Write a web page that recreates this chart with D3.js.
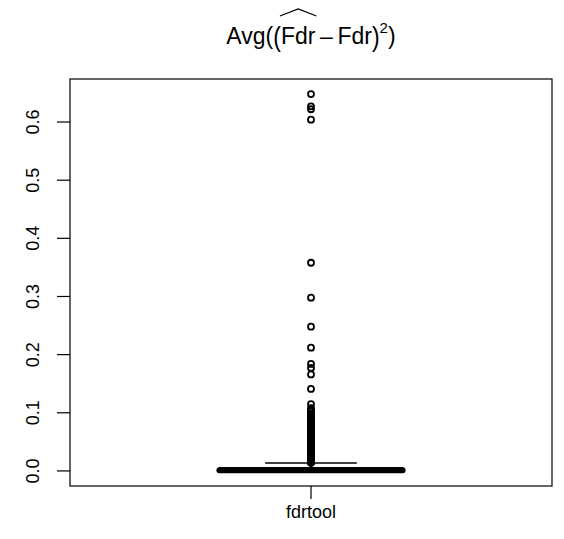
<!DOCTYPE html>
<html><head><meta charset="utf-8">
<script src="https://cdn.jsdelivr.net/npm/d3@7"></script>
<style>body{margin:0;background:#fff}svg{display:block}text{font-family:"Liberation Sans",Arial,sans-serif;fill:#000}</style>
</head><body><svg id="c" width="564" height="539"></svg>
<script>
const categories = ["fdrtool"];
const boxStats = {q1: 0.0003, median: 0.0012, q3: 0.0055, whiskerLo: 0.0, whiskerHi: 0.0135};
const outliers = [0.648, 0.627, 0.622, 0.604, 0.358, 0.298, 0.248, 0.212, 0.184, 0.177, 0.166, 0.141, 0.115,
  0.108, 0.105, 0.102, 0.099, 0.097, 0.095, 0.093, 0.091, 0.089, 0.087, 0.085, 0.083, 0.081, 0.079, 0.077,
  0.075, 0.073, 0.071, 0.069, 0.067, 0.065, 0.063, 0.061, 0.059, 0.057, 0.055, 0.053, 0.051, 0.049, 0.047,
  0.045, 0.044, 0.043, 0.042, 0.041, 0.040, 0.039, 0.038, 0.037, 0.036, 0.035, 0.034, 0.033, 0.032, 0.031,
  0.030, 0.029, 0.028, 0.027, 0.026, 0.025, 0.024, 0.023, 0.022, 0.021, 0.020, 0.019, 0.018, 0.017, 0.016,
  0.0155, 0.015, 0.0145, 0.014];
const yTicks = [0.0, 0.1, 0.2, 0.3, 0.4, 0.5, 0.6];

const svg = d3.select("#c");
const L = 70, R = 552, T = 79, B = 486;
const y = d3.scaleLinear().domain([-0.0259, 0.674]).range([B, T]);
const x = d3.scaleLinear().domain([0.5, 1.5]).range([L, R]);
const cx = x(1);

// frame
svg.append("rect").attr("x", L).attr("y", T).attr("width", R - L).attr("height", B - T)
  .attr("fill", "none").attr("stroke", "#000").attr("stroke-width", 1.2);

// y axis
const ya = svg.append("g");
yTicks.forEach(t => {
  ya.append("line").attr("x1", L - 13).attr("x2", L).attr("y1", y(t)).attr("y2", y(t)).attr("stroke", "#000").attr("stroke-width", 1.2);
  ya.append("text").attr("transform", `translate(39,${y(t)}) rotate(-90)`).attr("text-anchor", "middle")
    .attr("font-size", 18).text(d3.format(".1f")(t));
});
// x axis
svg.append("line").attr("x1", cx).attr("x2", cx).attr("y1", B).attr("y2", B + 13).attr("stroke", "#000").attr("stroke-width", 1.2);
svg.append("text").attr("x", cx).attr("y", 518).attr("text-anchor", "middle").attr("font-size", 18).text(categories[0]);

// box
const hw = 0.19, cw = 0.095;
svg.append("line").attr("x1", cx).attr("x2", cx).attr("y1", y(boxStats.q3)).attr("y2", y(boxStats.whiskerHi))
  .attr("stroke", "#000").attr("stroke-width", 1.4).attr("stroke-dasharray", "4,3");
svg.append("line").attr("x1", x(1 - cw)).attr("x2", x(1 + cw)).attr("y1", y(boxStats.whiskerHi)).attr("y2", y(boxStats.whiskerHi))
  .attr("stroke", "#000").attr("stroke-width", 1.5);
svg.append("rect").attr("x", x(1 - hw)).attr("width", x(1 + hw) - x(1 - hw))
  .attr("y", y(boxStats.q3)).attr("height", y(boxStats.q1) - y(boxStats.q3))
  .attr("fill", "none").attr("stroke", "#000").attr("stroke-width", 1.5);
svg.append("line").attr("x1", x(1 - hw)).attr("x2", x(1 + hw)).attr("y1", y(boxStats.median)).attr("y2", y(boxStats.median))
  .attr("stroke", "#000").attr("stroke-width", 6).attr("stroke-linecap", "round");

// outliers
svg.append("g").selectAll("circle").data(outliers).join("circle")
  .attr("cx", cx).attr("cy", d => y(d)).attr("r", 3).attr("fill", "none").attr("stroke", "#000").attr("stroke-width", 1.8);

// title
const tg = svg.append("g");
const fs = 23, base = 44;
const parts = [
  {t: "Avg(", s: fs, dy: 0},
  {t: "(", s: fs, dy: 2, sy: 1.2},
  {t: "Fdr", s: fs, dy: 0, hat: true},
  {t: "\u2009\u2013\u2009Fdr", s: fs, dy: 0},
  {t: ")", s: fs, dy: 2, sy: 1.2},
  {t: "2", s: 15, dy: -11},
  {t: ")", s: fs, dy: 0}
];
let cur = 0;
const els = parts.map(p => {
  const e = tg.append("text").attr("font-size", p.s).style("white-space", "pre").text(p.t);
  const w = e.node().getComputedTextLength();
  const o = {e, x: cur, w, p};
  cur += w;
  return o;
});
const off = 311 - cur / 2;
els.forEach(o => {
  o.e.attr("transform", `translate(${off + o.x},${base + o.p.dy}) scale(1,${o.p.sy || 1})`);
  if (o.p.hat) {
    const x0 = off + o.x - 1, x1 = off + o.x + o.w + 1, ym = 9, ye = 16;
    tg.append("path").attr("d", `M${x0},${ye} L${(x0 + x1) / 2},${ym} L${x1},${ye}`)
      .attr("fill", "none").attr("stroke", "#000").attr("stroke-width", 1.3);
  }
});
</script></body></html>
